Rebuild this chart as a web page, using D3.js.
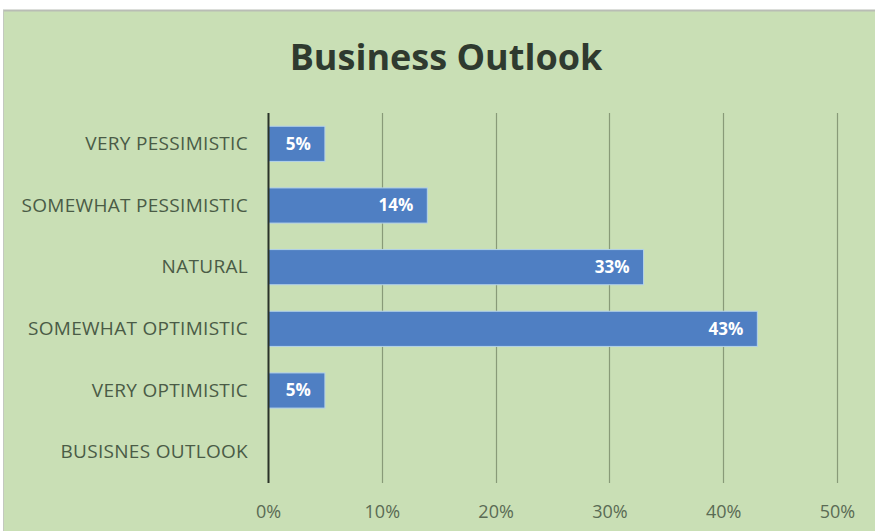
<!DOCTYPE html>
<html>
<head>
<meta charset="utf-8">
<script src="https://cdn.jsdelivr.net/npm/d3@7"></script>
<style>
  body { margin: 0; background: #fff; }
  #chart { width: 875px; height: 531px; }
</style>
</head>
<body>
<div id="chart"></div>
<script>
// data
let categories = ["VERY PESSIMISTIC", "SOMEWHAT PESSIMISTIC", "NATURAL", "SOMEWHAT OPTIMISTIC", "VERY OPTIMISTIC", "BUSISNES OUTLOOK"];
let values = [0.05, 0.14, 0.33, 0.43, 0.05, null];
let xTicks = [0, 0.1, 0.2, 0.3, 0.4, 0.5];

let W = 875, H = 531;
let margin = {top: 113, right: 38, bottom: 48, left: 268};
let width = W - margin.left - margin.right;
let height = H - margin.top - margin.bottom;

let root = d3.select("#chart").append("svg")
    .attr("width", W)
    .attr("height", H);

// chart area background (white strip top + left like a screenshot)
root.append("rect")
    .attr("x", 3).attr("y", 10)
    .attr("width", W - 3).attr("height", H - 10)
    .attr("fill", "#c9dfb5");
root.append("line")
    .attr("x1", 3).attr("x2", W).attr("y1", 10.5).attr("y2", 10.5)
    .attr("stroke", "#b9bdb5").attr("stroke-width", 2);
root.append("line")
    .attr("x1", 3.5).attr("x2", 3.5).attr("y1", 10).attr("y2", H)
    .attr("stroke", "#c3c8bf").attr("stroke-width", 1);

root.append("text")
    .attr("x", 446)
    .attr("y", 70)
    .attr("text-anchor", "middle")
    .attr("font-family", "'Open Sans', sans-serif")
    .attr("font-weight", "bold")
    .attr("font-size", 36)
    .attr("fill", "#2f3a2f")
    .text("Business Outlook");

let svg = root.append("g")
    .attr("transform", `translate(${margin.left}, ${margin.top})`);

let xScale = d3.scaleLinear()
    .domain([0, 0.5])
    .range([0, 569]);

let yScale = d3.scaleBand()
    .domain(categories)
    .range([0, height])
    .paddingInner(0.43)
    .paddingOuter(0.215);

// gridlines
svg.append("g")
    .attr("class", "grid")
    .selectAll("line")
    .data(xTicks.slice(1))
    .enter().append("line")
    .attr("x1", d => Math.round(xScale(d)) + 0.5)
    .attr("x2", d => Math.round(xScale(d)) + 0.5)
    .attr("y1", 0)
    .attr("y2", height)
    .attr("stroke", "#889a78")
    .attr("stroke-width", 1.2);

// bars
let rows = categories.map((c, i) => ({cat: c, val: values[i]})).filter(d => d.val != null);

svg.selectAll(".bar")
    .data(rows)
    .enter().append("rect")
    .attr("class", "bar")
    .attr("x", 0)
    .attr("y", d => yScale(d.cat))
    .attr("width", d => xScale(d.val))
    .attr("height", yScale.bandwidth())
    .attr("fill", "#4f7fc3")
    .attr("stroke", "#b4d3ea")
    .attr("stroke-width", 1);

svg.selectAll(".barLabel")
    .data(rows)
    .enter().append("text")
    .attr("class", "barLabel")
    .attr("x", d => xScale(d.val) - 14)
    .attr("y", d => yScale(d.cat) + yScale.bandwidth() / 2)
    .attr("dy", "0.35em")
    .attr("text-anchor", "end")
    .attr("font-family", "'Open Sans', sans-serif")
    .attr("font-weight", "bold")
    .attr("font-size", 17)
    .attr("fill", "#ffffff")
    .text(d => Math.round(d.val * 100) + "%");

// category labels
let yAxis = d3.axisLeft(yScale).tickSize(0).tickPadding(20);
let yAxisGroup = svg.append("g")
    .attr("class", "axis y-axis")
    .call(yAxis);
yAxisGroup.select(".domain").remove();
yAxisGroup.selectAll("text")
    .attr("font-family", "'Open Sans', sans-serif")
    .attr("font-size", 19)
    .attr("letter-spacing", 0.3)
    .attr("fill", "#4a5b46");

// value axis line
svg.append("line")
    .attr("x1", 0.5).attr("x2", 0.5)
    .attr("y1", 0).attr("y2", height)
    .attr("stroke", "#2a3328")
    .attr("stroke-width", 2);

// x tick labels
let xAxis = d3.axisBottom(xScale)
    .tickValues(xTicks)
    .tickFormat(d3.format(".0%"))
    .tickSize(0)
    .tickPadding(22);
let xAxisGroup = svg.append("g")
    .attr("class", "axis x-axis")
    .attr("transform", `translate(0, ${height})`)
    .call(xAxis);
xAxisGroup.select(".domain").remove();
xAxisGroup.selectAll("text")
    .attr("font-family", "'Open Sans', sans-serif")
    .attr("font-size", 18)
    .attr("fill", "#5a6b54");
</script>
</body>
</html>
